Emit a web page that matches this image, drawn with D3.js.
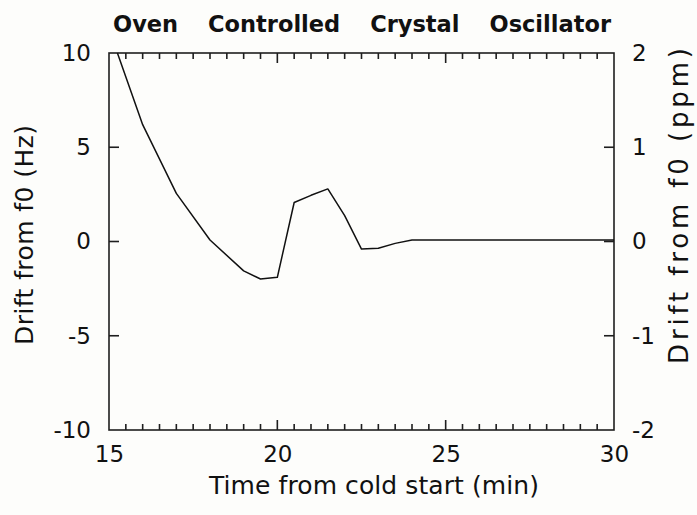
<!DOCTYPE html>
<html>
<head>
<meta charset="utf-8">
<script src="https://cdn.jsdelivr.net/npm/d3@7"></script>
<style>
  html, body { margin: 0; padding: 0; background: #fdfdfb; }
  svg { display: block; }
  text { font-family: "DejaVu Sans", Verdana, sans-serif; fill: #111; }
</style>
</head>
<body>
<svg id="chart" width="697" height="515"></svg>
<script>
// Frequency drift of an OCXO after a cold start
const minutes = [15.25, 16, 17, 18, 19, 19.5, 20, 20.5, 21, 21.5, 22, 22.5, 23, 23.5, 24, 30];
const driftHz = [10, 6.2, 2.55, 0.08, -1.56, -1.99, -1.9, 2.07, 2.45, 2.79, 1.37, -0.4, -0.36, -0.1, 0.08, 0.08];

const xTickLabels = [15, 20, 25, 30];
const xMinorTicks = [15.5, 16, 16.5, 17, 17.5, 18, 18.5, 19, 19.5, 20.5, 21, 21.5, 22, 22.5, 23, 23.5, 24, 24.5,
                     25.5, 26, 26.5, 27, 27.5, 28, 28.5, 29, 29.5];
const xMajorTicks = [20, 25];
const hzTicks = [-10, -5, 0, 5, 10];
const hzInnerTicks = [-5, 0, 5];
const ppmTicks = [-2, -1, 0, 1, 2];
const ppmInnerTicks = [-1, 0, 1];

const titleText = "Oven Controlled Crystal Oscillator";
const xTitle = "Time from cold start (min)";
const yTitleLeft = "Drift from f0 (Hz)";
const yTitleRight = "Drift from f0 (ppm)";

const svg = d3.select("#chart");
const m = { left: 109, right: 614, top: 53, bottom: 430 };

const x = d3.scaleLinear().domain([15, 30]).range([m.left, m.right]);
const yHz = d3.scaleLinear().domain([-10, 10]).range([m.bottom, m.top]);
const yPpm = d3.scaleLinear().domain([-2, 2]).range([m.bottom, m.top]);

const frameColor = "#1e1e1e";
const plain = d => String(d);   // hyphen-minus, as printed on the axes

// frame
svg.append("rect")
  .attr("x", m.left).attr("y", m.top)
  .attr("width", m.right - m.left).attr("height", m.bottom - m.top)
  .attr("fill", "none").attr("stroke", frameColor).attr("stroke-width", 1.6);

// inward tick marks
const ticks = svg.append("g").attr("stroke", frameColor).attr("stroke-width", 1.6);
function vTicks(values, len) {
  ticks.selectAll(null).data(values).join("line")
    .attr("x1", d => x(d)).attr("x2", d => x(d))
    .attr("y1", m.top).attr("y2", m.top + len);
  ticks.selectAll(null).data(values).join("line")
    .attr("x1", d => x(d)).attr("x2", d => x(d))
    .attr("y1", m.bottom).attr("y2", m.bottom - len);
}
vTicks(xMinorTicks, 6);
vTicks(xMajorTicks, 10);
ticks.selectAll(null).data(hzInnerTicks).join("line")
  .attr("x1", m.left).attr("x2", m.left + 10)
  .attr("y1", d => yHz(d)).attr("y2", d => yHz(d));
ticks.selectAll(null).data(ppmInnerTicks).join("line")
  .attr("x1", m.right).attr("x2", m.right - 10)
  .attr("y1", d => yPpm(d)).attr("y2", d => yPpm(d));

// drift curve
const line = d3.line().x((d, i) => x(minutes[i])).y(d => yHz(d));
svg.append("path")
  .datum(driftHz)
  .attr("d", line)
  .attr("fill", "none")
  .attr("stroke", "#111")
  .attr("stroke-width", 1.5)
  .attr("stroke-linejoin", "round");

// tick labels
function labels(axis, tx, ty) {
  const g = svg.append("g").attr("transform", `translate(${tx},${ty})`).call(axis);
  g.select(".domain").remove();
  g.selectAll(".tick line").remove();
  g.selectAll("text").style("font-size", "23px").attr("fill", "#111");
  return g;
}
const xLab = labels(d3.axisBottom(x).tickValues(xTickLabels).tickSize(0).tickPadding(0).tickFormat(plain), 0, m.bottom);
xLab.selectAll("text").attr("y", 32).attr("dy", null);
labels(d3.axisLeft(yHz).tickValues(hzTicks).tickSize(0).tickPadding(18).tickFormat(plain), m.left, 0);
labels(d3.axisRight(yPpm).tickValues(ppmTicks).tickSize(0).tickPadding(18).tickFormat(plain), m.right, 0);

// title, words spread across the plot width
const title = svg.append("text")
  .attr("x", 113).attr("y", 32)
  .style("font-size", "22.5px").style("font-weight", "bold")
  .text(titleText);
const tw = title.node().getComputedTextLength();
title.style("word-spacing", Math.max(0, (611 - 113 - tw) / 3) + "px");

// axis titles
svg.append("text")
  .attr("x", 374).attr("y", 494)
  .attr("text-anchor", "middle")
  .style("font-size", "25px")
  .attr("textLength", 330).attr("lengthAdjust", "spacing")
  .text(xTitle);

svg.append("text")
  .attr("transform", "translate(33,235) rotate(-90)")
  .attr("text-anchor", "middle")
  .style("font-size", "25px")
  .attr("textLength", 220).attr("lengthAdjust", "spacing")
  .text(yTitleLeft);

svg.append("text")
  .attr("transform", "translate(688,206) rotate(-90)")
  .attr("text-anchor", "middle")
  .style("font-size", "26px")
  .attr("textLength", 316).attr("lengthAdjust", "spacing")
  .text(yTitleRight);
</script>
</body>
</html>
